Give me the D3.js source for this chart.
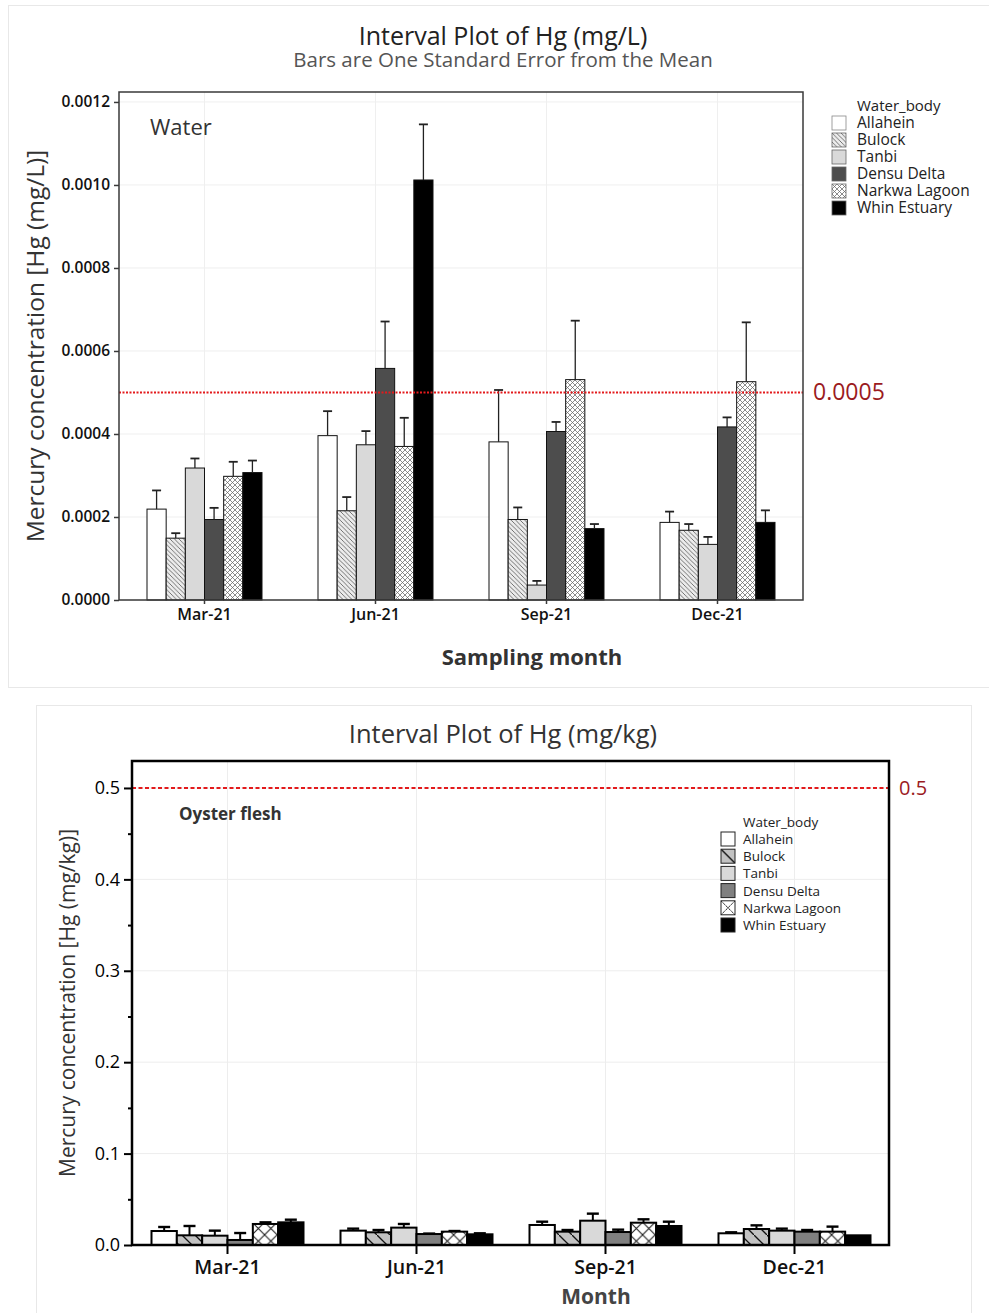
<!DOCTYPE html>
<html>
<head>
<meta charset="utf-8">
<script src="https://cdn.jsdelivr.net/npm/d3@7"></script>
<style>
  html, body { margin: 0; padding: 0; background: #fff; }
  svg { display: block; font-family: "Open Sans", "Noto Sans", sans-serif; }
</style>
</head>
<body>
<svg id="chart" width="989" height="1313"></svg>
<script>
// ---------- DATA ----------
const months = ["Mar-21", "Jun-21", "Sep-21", "Dec-21"];
const waterBodies = ["Allahein", "Bulock", "Tanbi", "Densu Delta", "Narkwa Lagoon", "Whin Estuary"];

// Water (mg/L): mean and one standard error, by month
const waterAllaheinMean = [0.000219, 0.000396, 0.000381, 0.000187];
const waterAllaheinSE   = [0.000045, 0.000059, 0.000125, 0.000026];
const waterBulockMean   = [0.000149, 0.000215, 0.000194, 0.000168];
const waterBulockSE     = [0.000012, 0.000033, 0.000029, 0.000015];
const waterTanbiMean    = [0.000318, 0.000374, 0.000036, 0.000134];
const waterTanbiSE      = [0.000023, 0.000033, 0.000010, 0.000018];
const waterDensuMean    = [0.000194, 0.000558, 0.000406, 0.000417];
const waterDensuSE      = [0.000028, 0.000113, 0.000023, 0.000023];
const waterNarkwaMean   = [0.000298, 0.000370, 0.000531, 0.000526];
const waterNarkwaSE     = [0.000035, 0.000069, 0.000142, 0.000143];
const waterWhinMean     = [0.000307, 0.001012, 0.000172, 0.000187];
const waterWhinSE       = [0.000029, 0.000134, 0.000011, 0.000029];

// Oyster flesh (mg/kg): mean and one standard error, by month
const oysterAllaheinMean = [0.0153, 0.0157, 0.0219, 0.0128];
const oysterAllaheinSE   = [0.0044, 0.0022, 0.0036, 0.0011];
const oysterBulockMean   = [0.0106, 0.0139, 0.0146, 0.0175];
const oysterBulockSE     = [0.0102, 0.0025, 0.0018, 0.0040];
const oysterTanbiMean    = [0.0102, 0.0190, 0.0266, 0.0157];
const oysterTanbiSE      = [0.0055, 0.0040, 0.0077, 0.0022];
const oysterDensuMean    = [0.0055, 0.0120, 0.0142, 0.0146];
const oysterDensuSE      = [0.0076, 0.0005, 0.0026, 0.0018];
const oysterNarkwaMean   = [0.0230, 0.0146, 0.0244, 0.0146];
const oysterNarkwaSE     = [0.0018, 0.0007, 0.0037, 0.0055];
const oysterWhinMean     = [0.0248, 0.0117, 0.0208, 0.0106];
const oysterWhinSE       = [0.0029, 0.0011, 0.0047, 0.0000];

const waterTicks  = [0, 0.0002, 0.0004, 0.0006, 0.0008, 0.0010, 0.0012];
const oysterTicks = [0, 0.1, 0.2, 0.3, 0.4, 0.5];
const oysterMinorTicks = [0.05, 0.15, 0.25, 0.35, 0.45];
const waterLimit = 0.0005;
const oysterLimit = 0.5;

// ---------- BUILD TABLES ----------
function buildRows(meansList, seList) {
  const rows = [];
  months.forEach((m, mi) => {
    waterBodies.forEach((w, wi) => {
      rows.push({ month: m, body: w, mean: meansList[wi][mi], se: seList[wi][mi] });
    });
  });
  return rows;
}
const waterRows = buildRows(
  [waterAllaheinMean, waterBulockMean, waterTanbiMean, waterDensuMean, waterNarkwaMean, waterWhinMean],
  [waterAllaheinSE, waterBulockSE, waterTanbiSE, waterDensuSE, waterNarkwaSE, waterWhinSE]);
const oysterRows = buildRows(
  [oysterAllaheinMean, oysterBulockMean, oysterTanbiMean, oysterDensuMean, oysterNarkwaMean, oysterWhinMean],
  [oysterAllaheinSE, oysterBulockSE, oysterTanbiSE, oysterDensuSE, oysterNarkwaSE, oysterWhinSE]);

const svg = d3.select("#chart");
const defs = svg.append("defs");

// ---------- PATTERNS ----------
(function () {
  const p1 = defs.append("pattern").attr("id", "wBulock").attr("patternUnits", "userSpaceOnUse")
    .attr("width", 4.5).attr("height", 4.5);
  p1.append("rect").attr("width", 4.5).attr("height", 4.5).attr("fill", "#ececec");
  p1.append("path").attr("d", "M-1,-1 L5.5,5.5 M-1,3.5 L1,5.5 M3.5,-1 L5.5,1")
    .attr("stroke", "#555").attr("stroke-width", 0.8);

  const p2 = defs.append("pattern").attr("id", "wNarkwa").attr("patternUnits", "userSpaceOnUse")
    .attr("width", 5).attr("height", 5);
  p2.append("rect").attr("width", 5).attr("height", 5).attr("fill", "#fff");
  p2.append("path").attr("d", "M0,0 L5,5 M5,0 L0,5")
    .attr("stroke", "#666").attr("stroke-width", 0.75);

  const p3 = defs.append("pattern").attr("id", "oBulock").attr("patternUnits", "userSpaceOnUse")
    .attr("width", 13).attr("height", 13);
  p3.append("rect").attr("width", 13).attr("height", 13).attr("fill", "#c2c2c2");
  p3.append("path").attr("d", "M-1,-1 L14,14").attr("stroke", "#111").attr("stroke-width", 1.3);

  const p4 = defs.append("pattern").attr("id", "oNarkwa").attr("patternUnits", "userSpaceOnUse")
    .attr("width", 12.6).attr("height", 12.6);
  p4.append("rect").attr("width", 12.6).attr("height", 12.6).attr("fill", "#fff");
  p4.append("path").attr("d", "M0,0 L12.6,12.6 M12.6,0 L0,12.6").attr("stroke", "#111").attr("stroke-width", 1);

  const p5 = defs.append("pattern").attr("id", "oBulockLeg").attr("patternUnits", "objectBoundingBox")
    .attr("patternContentUnits", "objectBoundingBox").attr("width", 1).attr("height", 1);
  p5.append("rect").attr("width", 1).attr("height", 1).attr("fill", "#c2c2c2");
  p5.append("path").attr("d", "M0,0 L1,1").attr("stroke", "#111").attr("stroke-width", 0.1);

  const p6 = defs.append("pattern").attr("id", "oNarkwaLeg").attr("patternUnits", "objectBoundingBox")
    .attr("patternContentUnits", "objectBoundingBox").attr("width", 1).attr("height", 1);
  p6.append("rect").attr("width", 1).attr("height", 1).attr("fill", "#fff");
  p6.append("path").attr("d", "M0,0 L1,1 M1,0 L0,1").attr("stroke", "#111").attr("stroke-width", 0.07)
    .attr("stroke-dasharray", "0.12,0.04");
})();

const waterFill = d3.scaleOrdinal().domain(waterBodies)
  .range(["#ffffff", "url(#wBulock)", "#d9d9d9", "#4d4d4d", "url(#wNarkwa)", "#000000"]);
const oysterFill = d3.scaleOrdinal().domain(waterBodies)
  .range(["#ffffff", "url(#oBulock)", "#d9d9d9", "#808080", "url(#oNarkwa)", "#000000"]);
const oysterLegFill = d3.scaleOrdinal().domain(waterBodies)
  .range(["#ffffff", "url(#oBulockLeg)", "#d9d9d9", "#808080", "url(#oNarkwaLeg)", "#000000"]);

// =====================================================
// TOP PANEL: WATER
// =====================================================
(function () {
  const L = 119, R = 803, T = 92, B = 600;
  svg.append("rect").attr("x", 8.5).attr("y", 5.5).attr("width", 990).attr("height", 682)
    .attr("fill", "#fff").attr("stroke", "#e8e8e8").attr("stroke-width", 1);

  svg.append("text").attr("x", 503).attr("y", 45).attr("text-anchor", "middle")
    .attr("font-size", 25).attr("fill", "#222").text("Interval Plot of Hg (mg/L)");
  svg.append("text").attr("x", 503).attr("y", 67).attr("text-anchor", "middle")
    .attr("font-size", 20.5).attr("fill", "#555").text("Bars are One Standard Error from the Mean");

  const y = d3.scaleLinear().domain([0, 0.001224]).range([B, T]);
  const x0 = d3.scaleBand().domain(months).range([L, R]).padding(0);
  const gw = 115;
  const x1 = d3.scaleBand().domain(waterBodies).range([0, gw]).padding(0);
  const off = (x0.bandwidth() - gw) / 2;

  const g = svg.append("g");
  g.selectAll(".hg").data(waterTicks).join("line")
    .attr("x1", L).attr("x2", R).attr("y1", d => y(d)).attr("y2", d => y(d))
    .attr("stroke", "#efefef").attr("stroke-width", 1);
  g.selectAll(".vg").data(months).join("line")
    .attr("x1", d => x0(d) + x0.bandwidth() / 2).attr("x2", d => x0(d) + x0.bandwidth() / 2)
    .attr("y1", T).attr("y2", B).attr("stroke", "#efefef").attr("stroke-width", 1);

  g.selectAll(".bar").data(waterRows).join("rect")
    .attr("x", d => x0(d.month) + off + x1(d.body))
    .attr("y", d => y(d.mean))
    .attr("width", x1.bandwidth())
    .attr("height", d => B - y(d.mean))
    .attr("fill", d => waterFill(d.body))
    .attr("stroke", "#111").attr("stroke-width", 1);

  const eb = g.selectAll(".eb").data(waterRows).join("g");
  eb.append("line")
    .attr("x1", d => x0(d.month) + off + x1(d.body) + x1.bandwidth() / 2)
    .attr("x2", d => x0(d.month) + off + x1(d.body) + x1.bandwidth() / 2)
    .attr("y1", d => y(d.mean)).attr("y2", d => y(d.mean + d.se))
    .attr("stroke", "#222").attr("stroke-width", 1.3);
  eb.append("line")
    .attr("x1", d => x0(d.month) + off + x1(d.body) + x1.bandwidth() / 2 - 4.5)
    .attr("x2", d => x0(d.month) + off + x1(d.body) + x1.bandwidth() / 2 + 4.5)
    .attr("y1", d => y(d.mean + d.se)).attr("y2", d => y(d.mean + d.se))
    .attr("stroke", "#222").attr("stroke-width", 1.8);

  g.append("line").attr("x1", L).attr("x2", R).attr("y1", y(waterLimit)).attr("y2", y(waterLimit))
    .attr("stroke", "#e31a1c").attr("stroke-width", 2).attr("stroke-dasharray", "2,1.5");
  svg.append("text").attr("x", 813).attr("y", y(waterLimit) + 8).attr("font-size", 23)
    .attr("fill", "#9b1b1e").text("0.0005");

  g.append("rect").attr("x", L).attr("y", T).attr("width", R - L).attr("height", B - T)
    .attr("fill", "none").attr("stroke", "#3a3a3a").attr("stroke-width", 1.5);

  const yAxis = d3.axisLeft(y).tickValues(waterTicks).tickFormat(d3.format(".4f")).tickSize(5).tickPadding(4);
  const ya = svg.append("g").attr("transform", `translate(${L},0)`).call(yAxis);
  ya.select(".domain").remove();
  ya.selectAll("line").attr("stroke", "#3a3a3a").attr("stroke-width", 1.5);
  ya.selectAll("text").attr("font-size", 15.5).attr("font-weight", 600).attr("fill", "#111")
    .attr("font-family", "\"Open Sans\", sans-serif");

  const xAxis = d3.axisBottom(x0).tickSize(4).tickPadding(5);
  const xa = svg.append("g").attr("transform", `translate(0,${B})`).call(xAxis);
  xa.select(".domain").remove();
  xa.selectAll("line").attr("stroke", "#3a3a3a").attr("stroke-width", 1.5);
  xa.selectAll("text").attr("font-size", 16).attr("font-weight", 600).attr("fill", "#111")
    .attr("font-family", "\"Open Sans\", sans-serif");

  svg.append("text").attr("transform", "translate(44,346) rotate(-90)").attr("text-anchor", "middle")
    .attr("font-size", 24.5).attr("fill", "#333").text("Mercury concentration [Hg (mg/L)]");
  svg.append("text").attr("x", 532).attr("y", 665).attr("text-anchor", "middle")
    .attr("font-size", 22).attr("font-weight", "bold").attr("fill", "#333").text("Sampling month");
  svg.append("text").attr("x", 150).attr("y", 135).attr("font-size", 22).attr("fill", "#333").text("Water");

  const lg = svg.append("g");
  lg.append("text").attr("x", 857).attr("y", 111).attr("font-size", 15).attr("fill", "#222").text("Water_body");
  const li = lg.selectAll(".li").data(waterBodies).join("g")
    .attr("transform", (d, i) => `translate(832,${116 + 17 * i})`);
  li.append("rect").attr("width", 14).attr("height", 14).attr("fill", d => waterFill(d))
    .attr("stroke", d => d === "Allahein" ? "#888" : "#666").attr("stroke-width", 0.8);
  li.append("text").attr("x", 25).attr("y", 12).attr("font-size", 15.5).attr("fill", "#222").text(d => d);
})();

// =====================================================
// BOTTOM PANEL: OYSTER FLESH
// =====================================================
(function () {
  const L = 132, R = 889, T = 761, B = 1245;
  svg.append("rect").attr("x", 36.5).attr("y", 705.5).attr("width", 935).attr("height", 640)
    .attr("fill", "#fff").attr("stroke", "#e8e8e8").attr("stroke-width", 1);

  svg.append("text").attr("x", 503).attr("y", 743).attr("text-anchor", "middle")
    .attr("font-size", 25.5).attr("fill", "#333").text("Interval Plot of Hg (mg/kg)");

  const y = d3.scaleLinear().domain([0, 0.5295]).range([B, T]);
  const x0 = d3.scaleBand().domain(months).range([L + 1, R]).padding(0);
  const gw = 152;
  const x1 = d3.scaleBand().domain(waterBodies).range([0, gw]).padding(0);
  const off = (x0.bandwidth() - gw) / 2;

  const g = svg.append("g");
  g.selectAll(".hg").data(oysterTicks).join("line")
    .attr("x1", L).attr("x2", R).attr("y1", d => y(d)).attr("y2", d => y(d))
    .attr("stroke", "#ededed").attr("stroke-width", 1);
  g.selectAll(".vg").data(months).join("line")
    .attr("x1", d => x0(d) + x0.bandwidth() / 2).attr("x2", d => x0(d) + x0.bandwidth() / 2)
    .attr("y1", T).attr("y2", B).attr("stroke", "#ededed").attr("stroke-width", 1);

  g.append("line").attr("x1", L).attr("x2", R).attr("y1", y(oysterLimit)).attr("y2", y(oysterLimit))
    .attr("stroke", "#e31a1c").attr("stroke-width", 2).attr("stroke-dasharray", "4,2.5");
  svg.append("text").attr("x", 899).attr("y", y(oysterLimit) + 7).attr("font-size", 20)
    .attr("fill", "#9b1b1e").text("0.5");

  const eb = g.selectAll(".eb").data(oysterRows.filter(d => d.se > 0)).join("g");
  eb.append("line")
    .attr("x1", d => x0(d.month) + off + x1(d.body) + x1.bandwidth() / 2)
    .attr("x2", d => x0(d.month) + off + x1(d.body) + x1.bandwidth() / 2)
    .attr("y1", d => y(d.mean)).attr("y2", d => y(d.mean + d.se))
    .attr("stroke", "#000").attr("stroke-width", 2);
  eb.append("line")
    .attr("x1", d => x0(d.month) + off + x1(d.body) + x1.bandwidth() / 2 - 6)
    .attr("x2", d => x0(d.month) + off + x1(d.body) + x1.bandwidth() / 2 + 6)
    .attr("y1", d => y(d.mean + d.se)).attr("y2", d => y(d.mean + d.se))
    .attr("stroke", "#000").attr("stroke-width", 2.4);

  g.selectAll(".bar").data(oysterRows).join("rect")
    .attr("x", d => x0(d.month) + off + x1(d.body))
    .attr("y", d => y(d.mean))
    .attr("width", x1.bandwidth())
    .attr("height", d => B - y(d.mean))
    .attr("fill", d => oysterFill(d.body))
    .attr("stroke", "#000").attr("stroke-width", 2);

  g.append("rect").attr("x", L).attr("y", T).attr("width", R - L).attr("height", B - T)
    .attr("fill", "none").attr("stroke", "#000").attr("stroke-width", 2.5);

  const yAxis = d3.axisLeft(y).tickValues(oysterTicks).tickFormat(d3.format(".1f")).tickSize(8).tickPadding(4);
  const ya = svg.append("g").attr("transform", `translate(${L},0)`).call(yAxis);
  ya.select(".domain").remove();
  ya.selectAll("line").attr("stroke", "#000").attr("stroke-width", 2);
  ya.selectAll("text").attr("font-size", 18).attr("fill", "#000")
    .attr("font-family", "\"Open Sans\", sans-serif");
  const yMinor = d3.axisLeft(y).tickValues(oysterMinorTicks).tickFormat("").tickSize(4);
  const ym = svg.append("g").attr("transform", `translate(${L},0)`).call(yMinor);
  ym.select(".domain").remove();
  ym.selectAll("line").attr("stroke", "#000").attr("stroke-width", 2);

  const xAxis = d3.axisBottom(x0).tickSize(9).tickPadding(6);
  const xa = svg.append("g").attr("transform", `translate(0,${B})`).call(xAxis);
  xa.select(".domain").remove();
  xa.selectAll("line").attr("stroke", "#000").attr("stroke-width", 2);
  xa.selectAll("text").attr("font-size", 19.5).attr("font-weight", 600).attr("fill", "#111")
    .attr("font-family", "\"Open Sans\", sans-serif");

  svg.append("text").attr("transform", "translate(75,1003) rotate(-90)").attr("text-anchor", "middle")
    .attr("font-size", 21).attr("fill", "#333").text("Mercury concentration [Hg (mg/kg)]");
  svg.append("text").attr("x", 596).attr("y", 1304).attr("text-anchor", "middle")
    .attr("font-size", 21).attr("font-weight", "bold").attr("fill", "#444").text("Month");
  svg.append("text").attr("x", 179).attr("y", 820).attr("font-size", 17).attr("font-weight", "bold")
    .attr("fill", "#333").text("Oyster flesh");

  const lg = svg.append("g");
  lg.append("text").attr("x", 743).attr("y", 827).attr("font-size", 13.5).attr("fill", "#222").text("Water_body");
  const li = lg.selectAll(".li").data(waterBodies).join("g")
    .attr("transform", (d, i) => `translate(721,${832 + 17.2 * i})`);
  li.append("rect").attr("width", 14).attr("height", 14).attr("fill", d => oysterLegFill(d))
    .attr("stroke", "#222").attr("stroke-width", 1);
  li.append("text").attr("x", 22).attr("y", 12).attr("font-size", 13.5).attr("fill", "#222").text(d => d);
})();
</script>
</body>
</html>
